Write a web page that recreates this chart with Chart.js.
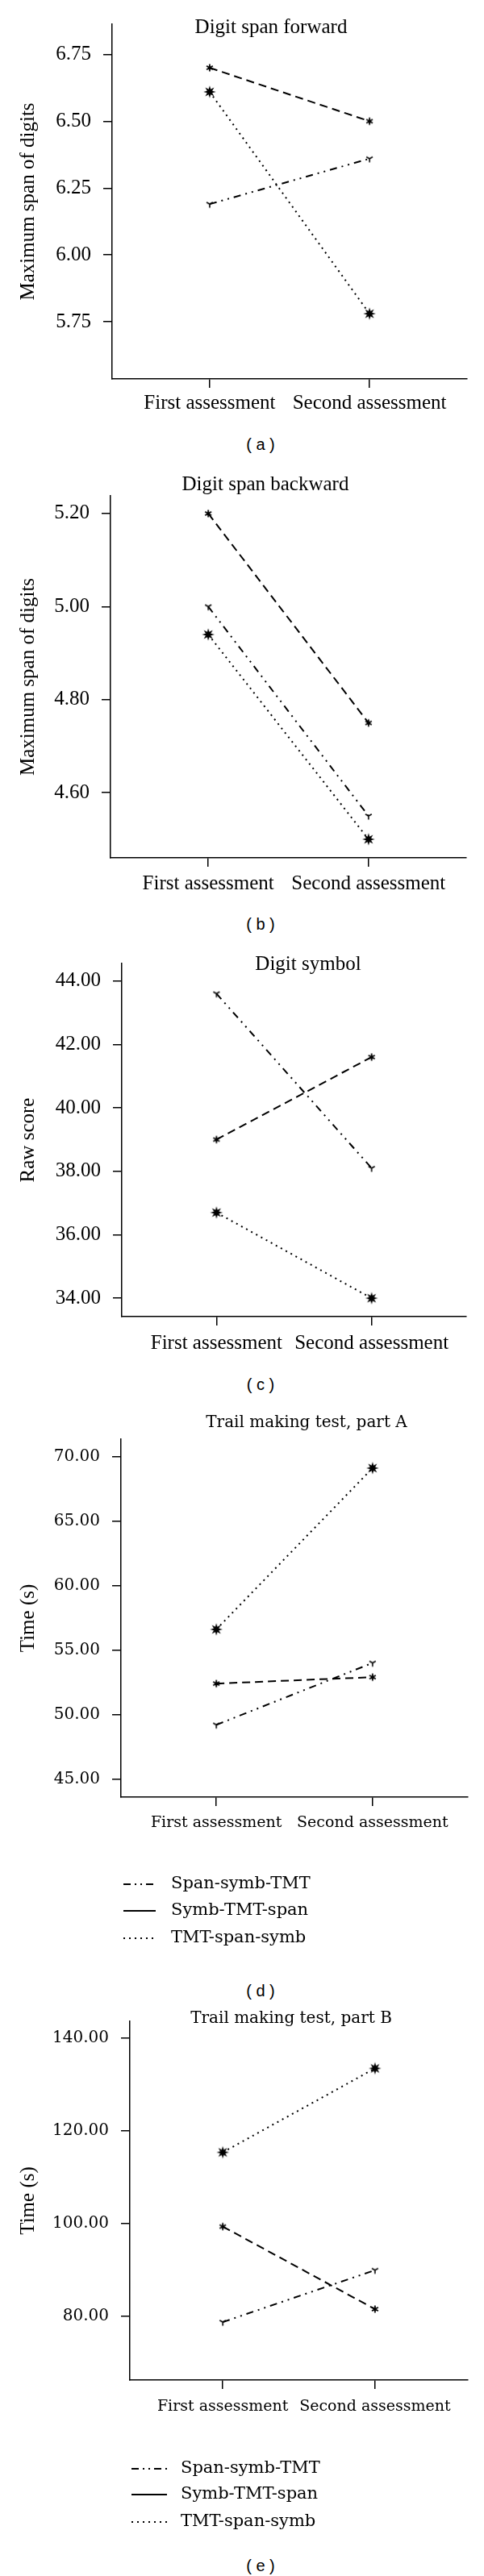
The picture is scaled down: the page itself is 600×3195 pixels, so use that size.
<!DOCTYPE html>
<html>
<head>
<meta charset="utf-8">
<script src="https://cdn.jsdelivr.net/npm/chart.js@4.4.1/dist/chart.umd.min.js"></script>
<style>
  body { margin: 0; background: #fff; width: 600px; height: 3195px; position: relative; overflow: hidden; }
  canvas { position: absolute; left: 0; }
  .cap { position: absolute; left: 273px; width: 100px; text-align: center; line-height: 24px;
         font: 20px "Liberation Sans", sans-serif; color: #000; white-space: pre; }
</style>
</head>
<body>
<canvas id="chartA" width="600" height="530" style="top:0px"></canvas>
<div class="cap" style="top:540px">( a )</div>
<canvas id="chartB" width="600" height="560" style="top:570px"></canvas>
<div class="cap" style="top:1135px">( b )</div>
<canvas id="chartC" width="600" height="520" style="top:1165px"></canvas>
<div class="cap" style="top:1706px">( c )</div>
<canvas id="chartD" width="600" height="700" style="top:1745px"></canvas>
<div class="cap" style="top:2458px">( d )</div>
<canvas id="chartE" width="600" height="680" style="top:2480px"></canvas>
<div class="cap" style="top:3171px">( e )</div>

<script>
const assessments = ['First assessment', 'Second assessment'];
const groups = ['Span-symb-TMT', 'Symb-TMT-span', 'TMT-span-symb'];

// (a) Digit span forward
const fwdSpanSymbTmt = [6.19, 6.36];
const fwdSymbTmtSpan = [6.70, 6.50];
const fwdTmtSpanSymb = [6.61, 5.78];
const fwdTicks = [5.75, 6.00, 6.25, 6.50, 6.75];

// (b) Digit span backward
const bwdSpanSymbTmt = [5.00, 4.55];
const bwdSymbTmtSpan = [5.20, 4.75];
const bwdTmtSpanSymb = [4.94, 4.50];
const bwdTicks = [4.60, 4.80, 5.00, 5.20];

// (c) Digit symbol
const symSpanSymbTmt = [43.6, 38.1];
const symSymbTmtSpan = [39.0, 41.6];
const symTmtSpanSymb = [36.7, 34.0];
const symTicks = [34, 36, 38, 40, 42, 44];

// (d) Trail making test, part A
const tmtaSpanSymbTmt = [49.2, 54.0];
const tmtaSymbTmtSpan = [52.4, 52.9];
const tmtaTmtSpanSymb = [56.6, 69.1];
const tmtaTicks = [45, 50, 55, 60, 65, 70];

// (e) Trail making test, part B
const tmtbSpanSymbTmt = [78.8, 90.0];
const tmtbSymbTmtSpan = [99.4, 81.6];
const tmtbTmtSpanSymb = [115.4, 133.5];
const tmtbTicks = [80, 100, 120, 140];

Chart.defaults.color = '#000';
Chart.defaults.font.family = 'Liberation Serif';

// marker glyphs
function marker(size, draw) {
    const c = document.createElement('canvas');
    c.width = size; c.height = size;
    const g = c.getContext('2d');
    g.translate(size / 2, size / 2);
    g.strokeStyle = '#000';
    g.fillStyle = '#000';
    draw(g);
    return c;
}
const triMark = marker(12, g => {
    g.lineWidth = 1.6;
    g.beginPath();
    [90, 210, 330].forEach(a => {
        const r = a * Math.PI / 180;
        g.moveTo(0, 0);
        g.lineTo(4.5 * Math.cos(r), 4.5 * Math.sin(r));
    });
    g.stroke();
});
const smallStar = marker(12, g => {
    g.lineWidth = 1.8;
    g.beginPath();
    for (let k = 0; k < 6; k++) {
        const r = (k * 60 - 90) * Math.PI / 180;
        g.moveTo(0, 0);
        g.lineTo(4.5 * Math.cos(r), 4.5 * Math.sin(r));
    }
    g.stroke();
});
const burst = marker(20, g => {
    g.beginPath();
    for (let k = 0; k < 16; k++) {
        const r = (k * 22.5 - 90) * Math.PI / 180;
        const rad = k % 2 === 0 ? 7.8 : 3.4;
        g.lineTo(rad * Math.cos(r), rad * Math.sin(r));
    }
    g.closePath();
    g.fill();
});

const lineDashes = [[9, 6, 2, 6, 2, 6], [10, 6], [2, 5]];
const legendDashes = [[9, 5, 2, 5, 2, 5], [], [2, 5]];
const markers = [triMark, smallStar, burst];

function makePanel(id, cfg) {
    const serif = cfg.wide ? 'DejaVu Serif' : 'Liberation Serif';
    const tickSize = cfg.wide ? 20 : 25;
    const catSize = cfg.wide ? 19 : 25;

    const textPlugin = {
        id: 'panelText',
        afterDraw(chart) {
            const ctx = chart.ctx;
            ctx.save();
            ctx.fillStyle = '#000';
            ctx.textAlign = 'center';
            ctx.textBaseline = 'middle';
            ctx.font = (cfg.wide ? 20 : 25) + 'px "' + serif + '"';
            ctx.fillText(cfg.title, cfg.titleX, cfg.titleY);
            if (cfg.legend) {
                const lg = cfg.legend;
                ctx.font = '21px "DejaVu Serif"';
                ctx.textAlign = 'left';
                chart.data.datasets.forEach((ds, i) => {
                    const y = lg.rows[i];
                    ctx.strokeStyle = '#000';
                    ctx.lineWidth = 2;
                    ctx.setLineDash(legendDashes[i]);
                    ctx.beginPath();
                    ctx.moveTo(lg.x0, y);
                    ctx.lineTo(lg.x1, y);
                    ctx.stroke();
                    ctx.setLineDash([]);
                    ctx.fillText(ds.label, lg.textX, y);
                });
            }
            ctx.restore();
        }
    };

    return new Chart(document.getElementById(id), {
        type: 'line',
        data: {
            datasets: cfg.series.map((vals, i) => ({
                label: groups[i],
                data: vals.map((v, k) => ({ x: k + 1, y: v })),
                borderColor: '#000',
                backgroundColor: '#000',
                borderWidth: 2,
                borderDash: lineDashes[i],
                pointStyle: markers[i],
                pointRadius: 6,
                fill: false,
                tension: 0
            }))
        },
        options: {
            responsive: false,
            devicePixelRatio: 1,
            animation: false,
            events: [],
            layout: { padding: { top: cfg.area.top, right: 600 - cfg.area.right, left: 0, bottom: 0 } },
            plugins: { legend: { display: false }, tooltip: { enabled: false } },
            scales: {
                x: {
                    type: 'linear',
                    min: 0.39,
                    max: 2.61,
                    afterBuildTicks: s => { s.ticks = assessments.map((_, i) => ({ value: i + 1 })); },
                    afterFit: s => { s.height = cfg.height - cfg.area.bottom; },
                    grid: { drawOnChartArea: false, drawTicks: true, tickLength: 11, color: '#000', lineWidth: 1.5 },
                    border: { display: true, color: '#000', width: 1.5 },
                    ticks: {
                        callback: v => assessments[v - 1],
                        font: { family: serif, size: catSize },
                        color: '#000',
                        padding: cfg.xPad,
                        maxRotation: 0,
                        autoSkip: false
                    }
                },
                y: {
                    min: cfg.yMin,
                    max: cfg.yMax,
                    afterBuildTicks: s => { s.ticks = cfg.ticks.map(v => ({ value: v })); },
                    afterFit: s => { s.width = cfg.area.left; },
                    grid: { drawOnChartArea: false, drawTicks: true, tickLength: 11, color: '#000', lineWidth: 1.5 },
                    border: { display: true, color: '#000', width: 1.5 },
                    ticks: {
                        callback: v => v.toFixed(2),
                        font: { family: serif, size: tickSize },
                        color: '#000',
                        padding: 15
                    },
                    title: {
                        display: true,
                        text: cfg.yTitle,
                        font: { family: 'Liberation Serif', size: 25 },
                        color: '#000',
                        padding: { top: 20, bottom: 0 }
                    }
                }
            }
        },
        plugins: [textPlugin]
    });
}

makePanel('chartA', {
    height: 530, area: { left: 139, top: 24, right: 579, bottom: 470 },
    yMin: 5.536, yMax: 6.863, ticks: fwdTicks, xPad: 4,
    title: 'Digit span forward', titleX: 336, titleY: 34.5,
    yTitle: 'Maximum span of digits',
    series: [fwdSpanSymbTmt, fwdSymbTmtSpan, fwdTmtSpanSymb]
});

makePanel('chartB', {
    height: 560, area: { left: 137, top: 45, right: 578, bottom: 494 },
    yMin: 4.46, yMax: 5.238, ticks: bwdTicks, xPad: 6,
    title: 'Digit span backward', titleX: 329, titleY: 31.5,
    yTitle: 'Maximum span of digits',
    series: [bwdSpanSymbTmt, bwdSymbTmtSpan, bwdTmtSpanSymb]
});

makePanel('chartC', {
    height: 520, area: { left: 151, top: 23, right: 578, bottom: 468 },
    yMin: 33.42, yMax: 44.55, ticks: symTicks, xPad: 7,
    title: 'Digit symbol', titleX: 382, titleY: 31,
    yTitle: 'Raw score',
    series: [symSpanSymbTmt, symSymbTmtSpan, symTmtSpanSymb]
});

makePanel('chartD', {
    wide: true,
    height: 700, area: { left: 150, top: 40, right: 580, bottom: 484 },
    yMin: 43.6, yMax: 71.34, ticks: tmtaTicks, xPad: 10,
    title: 'Trail making test, part A', titleX: 380, titleY: 20,
    yTitle: 'Time (s)',
    legend: { rows: [592, 625, 659], x0: 153, x1: 193, textX: 212 },
    series: [tmtaSpanSymbTmt, tmtaSymbTmtSpan, tmtaTmtSpanSymb]
});

makePanel('chartE', {
    wide: true,
    height: 680, area: { left: 161, top: 27, right: 580, bottom: 472 },
    yMin: 66.3, yMax: 143.65, ticks: tmtbTicks, xPad: 11,
    title: 'Trail making test, part B', titleX: 361, titleY: 23.5,
    yTitle: 'Time (s)',
    legend: { rows: [582, 614, 648], x0: 163, x1: 207, textX: 224 },
    series: [tmtbSpanSymbTmt, tmtbSymbTmtSpan, tmtbTmtSpanSymb]
});
</script>
</body>
</html>
